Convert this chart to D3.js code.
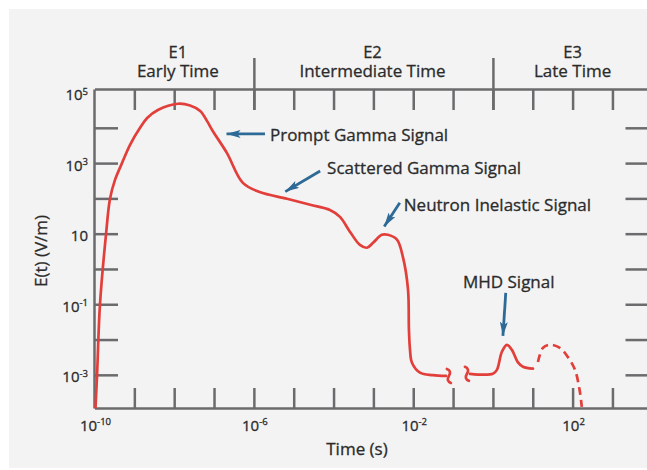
<!DOCTYPE html>
<html>
<head>
<meta charset="utf-8">
<script src="https://cdn.jsdelivr.net/npm/d3@7"></script>
<style>
  html, body { margin: 0; padding: 0; background: #fff; }
  svg text { font-family: "Open Sans", "Noto Sans", sans-serif; fill: #2b2b2b; stroke: #2b2b2b; stroke-width: 0.3px; }
</style>
</head>
<body>
<div id="chart"></div>
<script>
// values (time in s, field in V/m)
const mainTime = [1.06e-10, 1.16e-10, 1.37e-10, 1.95e-10, 2.45e-10, 3.27e-10, 4.9e-10, 7.8e-10, 1.39e-9, 2.1e-9, 3.9e-9, 1.24e-8,
    2.5e-8, 4.5e-8, 6.65e-8, 9.3e-8, 2.1e-7, 5.3e-7, 1.4e-6, 6.8e-6, 2.6e-5, 8.1e-5,
    1.45e-4, 2.6e-4, 4.6e-4, 6.9e-4, 9.8e-4, 1.62e-3, 2.3e-3, 3.9e-3, 5.5e-3, 7.4e-3,
    7.8e-3, 8.3e-3, 9.3e-3, 1.48e-2, 3.1e-2, 6.6e-2];
const mainField = [1.2e-4, 1.0e-3, 9.6e-2, 9.9, 97, 334, 1.0e3, 3.3e3, 1.0e4, 1.9e4, 3.2e4, 4.8e4,
    4.3e4, 3.0e4, 1.57e4, 8.1e3, 1.95e3, 275, 151, 98, 66, 47,
    30, 11.2, 4.8, 4.0, 5.5, 9.3, 9.3, 6.8, 2.2, 0.26,
    1.9e-2, 5.1e-3, 2.2e-3, 1.15e-3, 9.8e-4, 9.3e-4];

const mhdTime = [0.265, 1.0, 1.26, 1.68, 2.24, 3.0, 4.2, 5.7, 10.1];
const mhdField = [1.07e-3, 1.07e-3, 1.38e-3, 4.5e-3, 7.1e-3, 5.1e-3, 2.3e-3, 1.7e-3, 1.5e-3];

// dashed (extrapolated) late-time part
const lateTime = [13.5, 18, 27, 48, 76, 115, 150, 170];
const lateField = [2.3e-3, 5.8e-3, 7.1e-3, 5.8e-3, 3.2e-3, 1.38e-3, 3.7e-4, 1.23e-4];

const eraCodes = ["E1", "E2", "E3"];
const eraNames = ["Early Time", "Intermediate Time", "Late Time"];
const eraMid = [1.24e-8, 9.5e-4, 1.0e2];
const eraBounds = [1e-6, 1];

const xTickMarks = [1e-9, 1e-8, 1e-7, 1e-6, 1e-5, 1e-4, 1e-3, 1e-2, 1e-1, 1, 10, 1e2, 1e3];
const xTickLabels = [1e-10, 1e-6, 1e-2, 1e2];
const yTickMarks = [1e4, 1e3, 1e2, 10, 1, 1e-1, 1e-2, 1e-3];
const yTickLabels = [1e5, 1e3, 10, 1e-1, 1e-3];

const noteLabels = ["Prompt Gamma Signal", "Scattered Gamma Signal", "Neutron Inelastic Signal", "MHD Signal"];
const noteTailTime = [1.9e-6, 4.6e-5, 4.6e-3, 2.1];
const noteTailField = [6.7e3, 600, 75, 0.21];
const noteTipTime = [2.0e-7, 6.0e-6, 1.84e-3, 1.78];
const noteTipField = [6.7e3, 153, 15.6, 1.23e-2];

document.addEventListener('DOMContentLoaded', function () {
    const width = 647, height = 470;
    const red = '#e23f3b', blue = '#2d6a95', grey = '#6b6b6d';

    const svg = d3.select('#chart').append('svg')
        .attr('width', width)
        .attr('height', height);

    svg.append('rect')
        .attr('x', 9).attr('y', 9)
        .attr('width', width - 9).attr('height', 459)
        .attr('fill', '#f3f3f4');

    const x = d3.scaleLog().domain([1e-10, Math.pow(10, 3.88)]).range([94.5, 647.5]);
    const y = d3.scaleLog().domain([Math.pow(10, -3.94), Math.pow(10, 5.1)]).range([408, 89]);

    // frame with inward ticks
    const axes = svg.append('g').attr('color', grey);

    axes.append('g')
        .attr('transform', `translate(0,${y.range()[0]})`)
        .call(d3.axisBottom(x).tickValues(xTickMarks).tickSizeInner(-20).tickSizeOuter(0).tickFormat(''));
    axes.append('g')
        .attr('transform', `translate(0,${y.range()[1]})`)
        .call(d3.axisTop(x).tickValues(xTickMarks).tickSizeInner(-21).tickSizeOuter(0).tickFormat(''));
    axes.append('g')
        .attr('transform', `translate(${x.range()[0] - 0.5},0)`)
        .call(d3.axisLeft(y).tickValues(yTickMarks).tickSizeInner(-24).tickSizeOuter(0).tickFormat(''));
    axes.append('g')
        .attr('transform', `translate(${width + 0.5},0)`)
        .call(d3.axisRight(y).tickValues(yTickMarks).tickSizeInner(-22).tickSizeOuter(0).tickFormat(''))
        .call(g => g.select('.domain').remove());

    axes.selectAll('path, line').attr('stroke-width', 2.5);

    // era separators on the top edge
    axes.selectAll('.sep')
        .data(eraBounds)
        .enter().append('line')
        .attr('x1', d => x(d) + 0.5).attr('x2', d => x(d) + 0.5)
        .attr('y1', 58).attr('y2', 110)
        .attr('stroke', grey).attr('stroke-width', 2.5);

    svg.selectAll('.era-code')
        .data(eraCodes)
        .enter().append('text')
        .attr('x', (d, i) => x(eraMid[i]))
        .attr('y', 57.5)
        .attr('text-anchor', 'middle')
        .style('font-size', '16.5px')
        .text(d => d);

    svg.selectAll('.era-name')
        .data(eraNames)
        .enter().append('text')
        .attr('x', (d, i) => x(eraMid[i]))
        .attr('y', 77)
        .attr('text-anchor', 'middle')
        .style('font-size', '17px')
        .text(d => d);

    // power-of-ten labels
    function powerLabel(text, v) {
        const e = Math.round(Math.log10(v));
        text.append('tspan').text('10');
        if (e !== 1) {
            text.append('tspan')
                .attr('dy', -5.5)
                .style('font-size', '9.5px')
                .text(e);
        }
    }

    xTickLabels.forEach(v => {
        const t = svg.append('text')
            .attr('x', x(v) + 1)
            .attr('y', 430.5)
            .attr('text-anchor', 'middle')
            .style('font-size', '15px');
        powerLabel(t, v);
    });

    yTickLabels.forEach(v => {
        const t = svg.append('text')
            .attr('x', 88)
            .attr('y', y(v) + 7.5)
            .attr('text-anchor', 'end')
            .style('font-size', '15px');
        powerLabel(t, v);
    });

    svg.append('text')
        .attr('x', 357)
        .attr('y', 455)
        .attr('text-anchor', 'middle')
        .style('font-size', '17px')
        .text('Time (s)');

    svg.append('text')
        .attr('transform', 'translate(47,251) rotate(-90)')
        .attr('text-anchor', 'middle')
        .style('font-size', '17px')
        .text('E(t) (V/m)');

    // curves
    const line = d3.line()
        .x(d => x(d[0]))
        .y(d => y(d[1]))
        .curve(d3.curveCatmullRom.alpha(0.5));

    const curves = svg.append('g')
        .attr('fill', 'none')
        .attr('stroke', red)
        .attr('stroke-width', 2.7)
        .attr('stroke-linecap', 'round');

    curves.append('path').attr('d', line(d3.zip(mainTime, mainField)));
    curves.append('path').attr('d', line(d3.zip(mhdTime, mhdField)));
    curves.append('path')
        .attr('d', line(d3.zip(lateTime, lateField)))
        .attr('stroke-linecap', 'butt')
        .attr('stroke-dasharray', '8,5');

    // axis-break squiggles at the gap
    const breakAt = [
        [x(mainTime[mainTime.length - 1]) + 3, y(mainField[mainField.length - 1])],
        [x(mhdTime[0]) - 3, y(mhdField[0])]
    ];
    curves.selectAll('.brk')
        .data(breakAt)
        .enter().append('path')
        .attr('d', d => `M${d[0] - 2},${d[1] - 7} q5,2 2,7 q-3,5 2,7`);

    // annotations
    svg.append('defs').append('marker')
        .attr('id', 'head')
        .attr('viewBox', '0 0 14 8')
        .attr('refX', 14).attr('refY', 4)
        .attr('markerWidth', 14).attr('markerHeight', 8)
        .attr('markerUnits', 'userSpaceOnUse')
        .attr('orient', 'auto')
        .append('path')
        .attr('d', 'M0,0 L14,4 L0,8 L3,4 Z')
        .attr('fill', blue);

    const textOffset = [[5, 7], [7, 3.5], [4, 8.5], [3, -4.5]];
    const textAnchor = ['start', 'start', 'start', 'middle'];

    noteLabels.forEach((label, i) => {
        const x0 = x(noteTailTime[i]), y0 = y(noteTailField[i]);
        const x1 = x(noteTipTime[i]), y1 = y(noteTipField[i]);
        const len = Math.hypot(x1 - x0, y1 - y0);
        svg.append('line')
            .attr('x1', x0).attr('y1', y0)
            .attr('x2', x1 - (x1 - x0) / len * 0.5).attr('y2', y1 - (y1 - y0) / len * 0.5)
            .attr('stroke', blue)
            .attr('stroke-width', 2.8)
            .attr('marker-end', 'url(#head)');
        svg.append('text')
            .attr('x', x0 + textOffset[i][0])
            .attr('y', y0 + textOffset[i][1])
            .attr('text-anchor', textAnchor[i])
            .style('font-size', '17px')
            .text(label);
    });
});
</script>
</body>
</html>
